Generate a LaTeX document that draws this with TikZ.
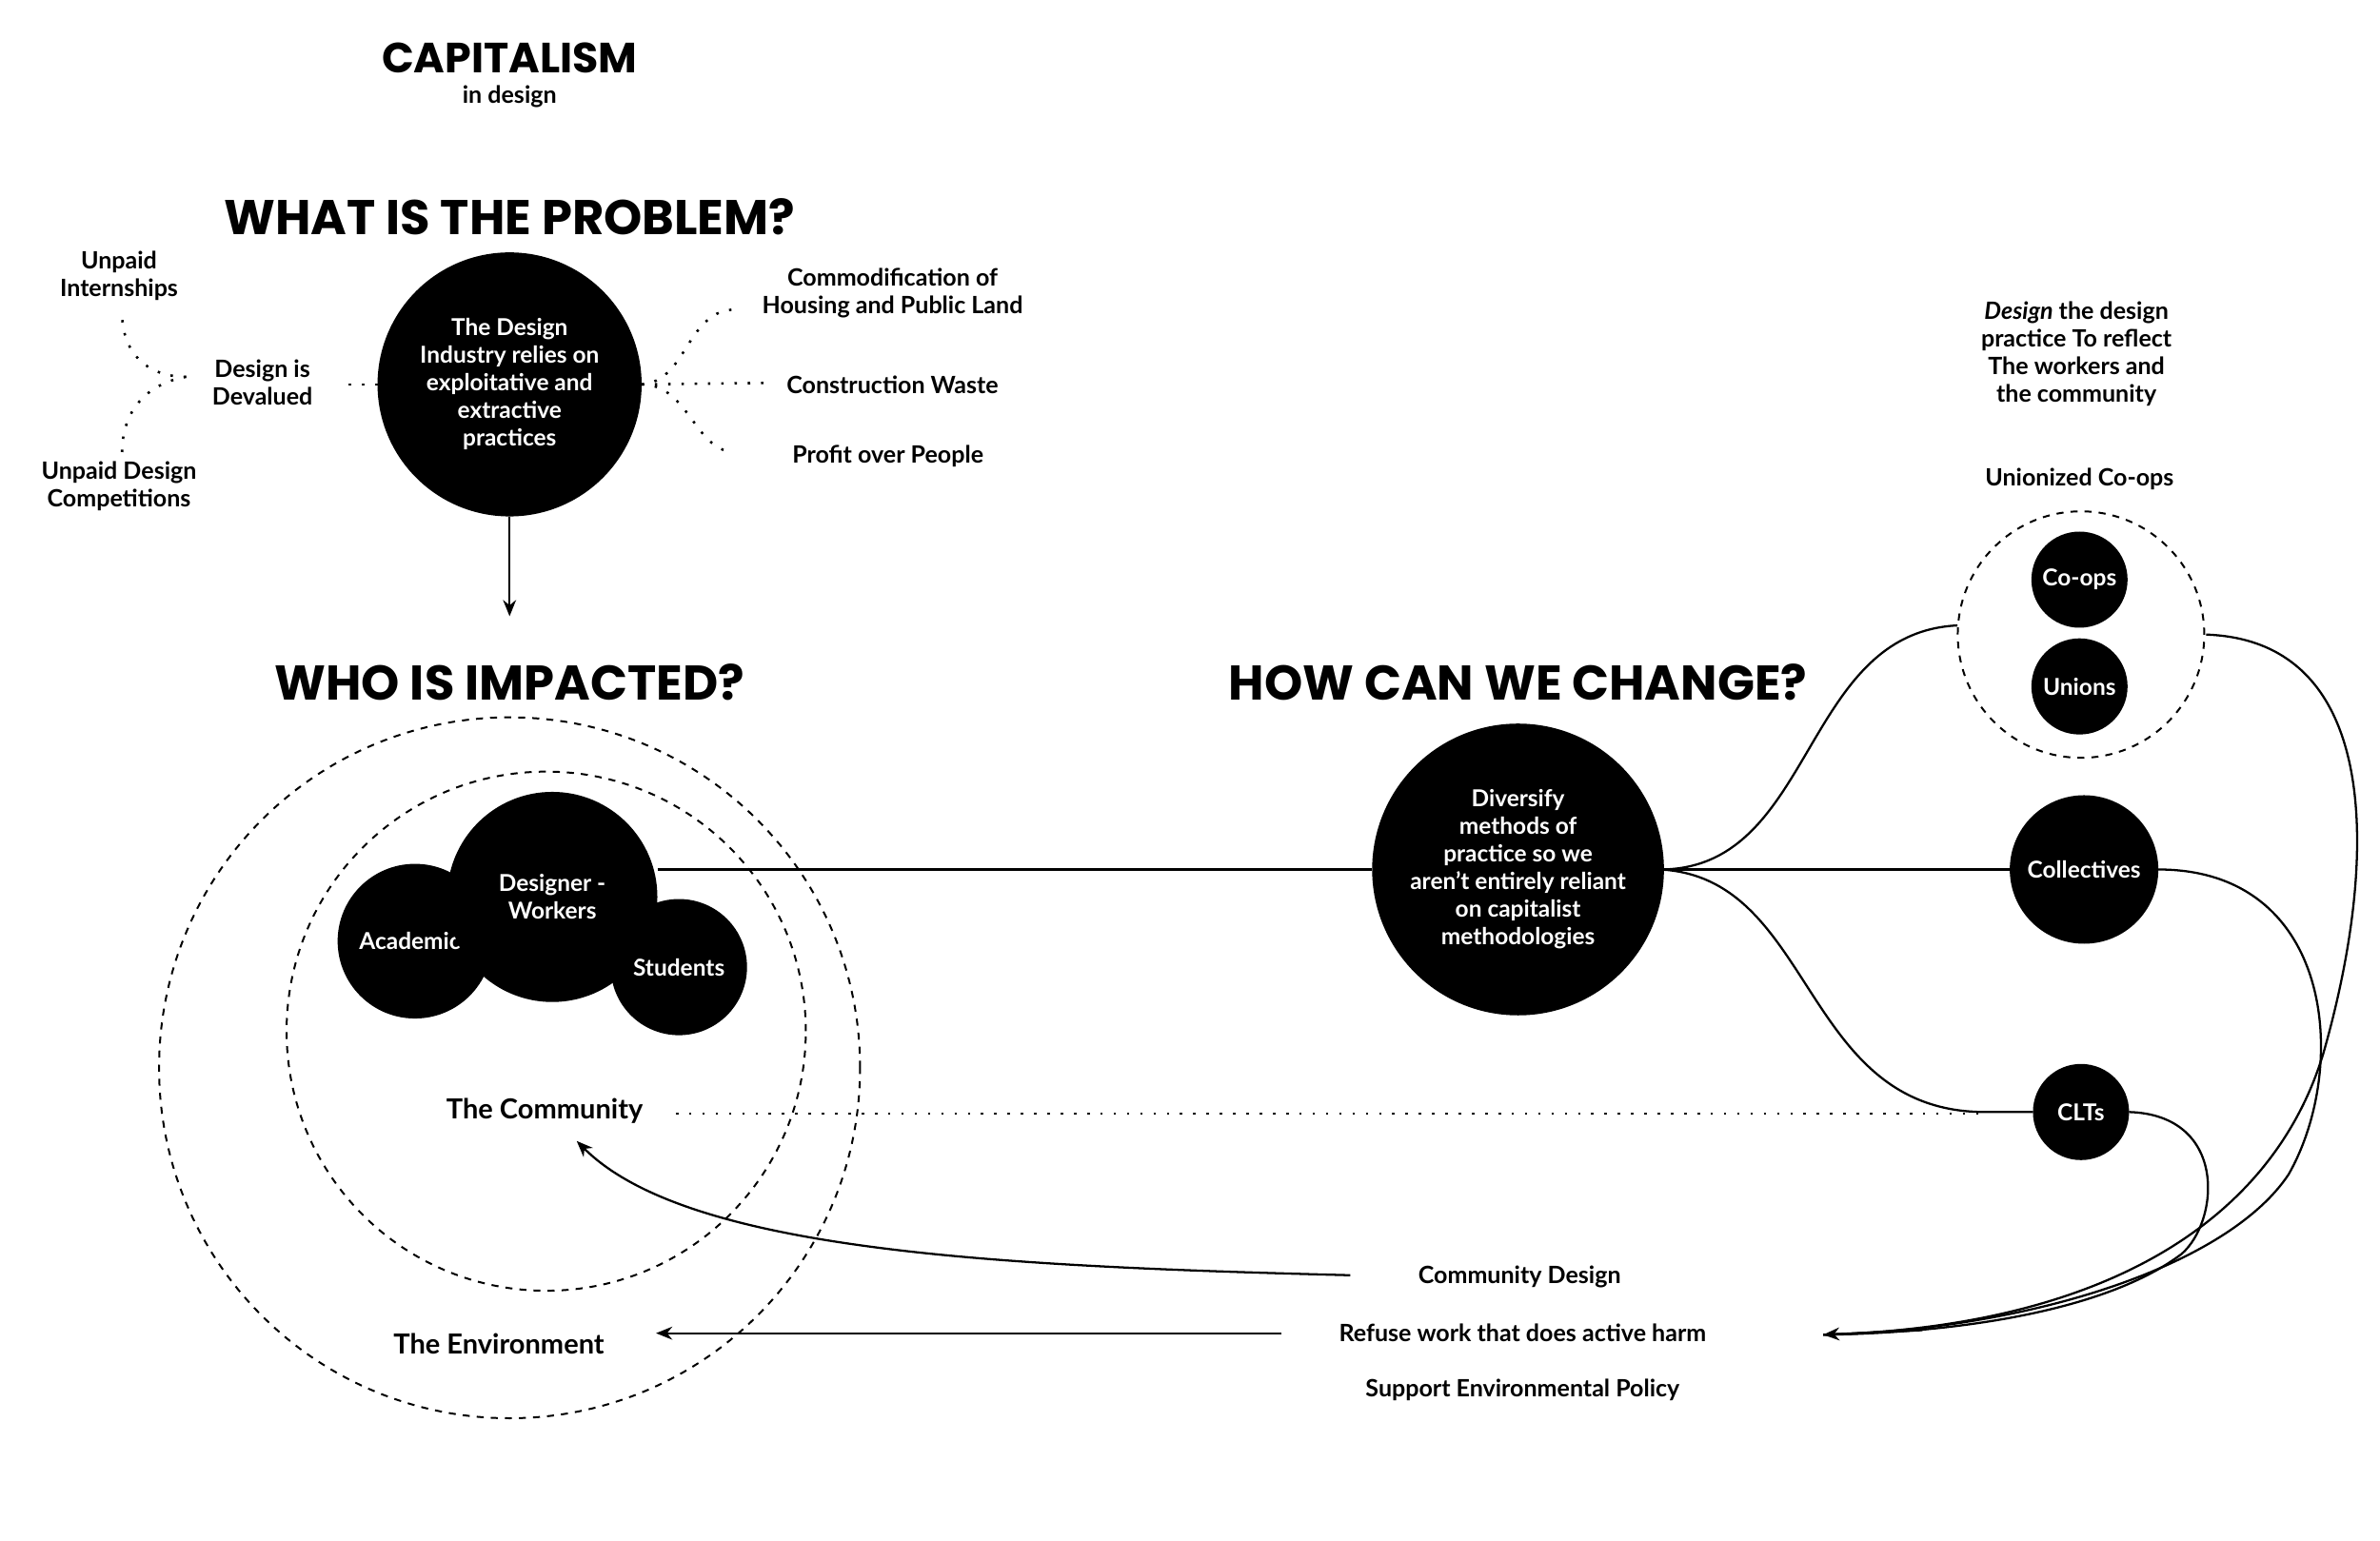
\documentclass[tikz,border=0pt]{standalone}
\usepackage{fontspec}
\setmainfont{Lato}
\newfontfamily\hfont{Poppins}
\usetikzlibrary{arrows.meta}
\begin{document}
\begin{tikzpicture}[x=0.0099cm,y=-0.0099cm,
  body/.style={font=\fontsize{4.4}{5.1}\selectfont\bfseries,align=center,inner sep=0},
  head/.style={font=\hfont\fontsize{9}{10}\selectfont\bfseries,inner sep=0},
  blk/.style={circle,fill=black,draw=black,inner sep=0,text=white,font=\fontsize{4.3}{5.1}\selectfont\bfseries,align=center},
  dsh/.style={draw,line width=0.35pt,dash pattern=on 1.3pt off 1.3pt},
  dot/.style={line width=0.45pt,dotted},
  ln/.style={line width=0.4pt},
  arr/.style={ln,-{Stealth[length=3pt,width=2.4pt]}}]
\useasboundingbox[fill=white] (0,0) rectangle (1560,1010);
\node[head,font=\hfont\fontsize{7.8}{9}\selectfont\bfseries] (cap) at (334,38) {CAPITALISM};
\node[body] (ind) at (334,63) {in design};
\node[head] (h1) at (334,142) {WHAT IS THE PROBLEM?};
\node[head] (h2) at (334,447) {WHO IS IMPACTED?};
\node[head] (h3) at (995,447) {HOW CAN WE CHANGE?};
% problem
\node[blk,minimum size=1.70cm] (prob) at (334,252) {The Design\\Industry relies on\\exploitative and\\extractive\\practices};
\node[body] (dev) at (172,251) {Design is\\Devalued};
\node[body] (ui) at (78,181) {Unpaid\\Internships};
\node[body] (ud) at (78,319) {Unpaid Design\\Competitions};
\node[body] (com) at (585,192) {Commodification of\\Housing and Public Land};
\node[body] (cw) at (585,252) {Construction Waste};
\node[body] (pp) at (582,299) {Profit over People};
\coordinate (dl) at (122,247);
\draw[dot] (prob.west) -- ++(-26,0);
\draw[dot] (dl) .. controls (95,247) and (80,230) .. (80,205);
\draw[dot] (dl) .. controls (95,252) and (80,270) .. (80,297);
\draw[dot] (prob.east) .. controls (450,250) and (450,205) .. (480,203);
\draw[dot] (prob.east) -- (503,251);
\draw[dot] (prob.east) .. controls (450,252) and (455,292) .. (478,296);
\coordinate (a1) at (334,404);
\draw[arr] (prob.south) -- (a1);
% impacted
\node[dsh,circle,minimum size=4.55cm] (outer) at (334,700) {};
\node[dsh,circle,minimum size=3.37cm] (inner) at (358,676) {};
\node[blk,minimum size=0.99cm] (aca) at (272,617) {Academics};
\node[blk,minimum size=0.87cm] (stu) at (445,634) {Students};
\node[blk,minimum size=1.35cm] (dw) at (362,588) {Designer -\\Workers};
\node[body,font=\fontsize{5.1}{6}\selectfont\bfseries] (comm) at (357,728) {The Community};
\node[body,font=\fontsize{5.1}{6}\selectfont\bfseries] (env) at (327,881) {The Environment};
% change
\node[blk,minimum size=1.88cm] (div) at (995,570) {Diversify\\methods of\\practice so we\\aren't entirely reliant\\on capitalist\\methodologies};
\node[dsh,circle,minimum size=1.60cm] (uc) at (1364,416) {};
\node[blk,minimum size=0.61cm] (coop) at (1363,380) {Co-ops};
\node[blk,minimum size=0.61cm] (un) at (1363,450) {Unions};
\node[blk,minimum size=0.95cm] (col) at (1366,570) {Collectives};
\node[blk,minimum size=0.61cm] (clt) at (1364,729) {CLTs};
\node[body] (uct) at (1363,314) {Unionized Co-ops};
\node[body] (dt) at (1361,232) {\textit{Design} the design\\practice To reflect\\The workers and\\the community};
\draw[ln] (dw.east |- 0,570) -- (div.west);
\coordinate (de) at (1088,570);
\draw[ln] (de) .. controls (1190,570) and (1180,415) .. (1283,410);
\draw[ln] (de) -- (col.west);
\draw[ln] (de) .. controls (1190,575) and (1180,728) .. (1300,729) -- (clt.west);
\coordinate (cl) at (443,730);
\draw[dot] (cl) -- (1300,730);
\coordinate (tgt) at (1195,875);
\draw[ln] (1446,416) .. controls (1560,420) and (1560,560) .. (1523,690) .. controls (1490,800) and (1380,870) .. (tgt);
\draw[ln] (col.east) .. controls (1530,570) and (1540,700) .. (1500,770) .. controls (1460,830) and (1330,872) .. (tgt);
\draw[ln] (clt.east) .. controls (1460,731) and (1455,800) .. (1430,822) .. controls (1380,860) and (1280,874) .. (tgt);
\draw[arr] (1260,872) -- (tgt);
\node[body] (cd) at (996,837) {Community Design};
\node[body] (rw) at (998,874) {Refuse work that does active harm};
\node[body] (sep) at (998,911) {Support Environmental Policy};
\coordinate (cds) at (885,836);
\coordinate (cme) at (378,748);
\draw[arr] (cds) .. controls (650,830) and (450,820) .. (cme);
\coordinate (rws) at (840,874);
\coordinate (enve) at (430,874);
\draw[arr] (rws) -- (enve);
\end{tikzpicture}
\end{document}
